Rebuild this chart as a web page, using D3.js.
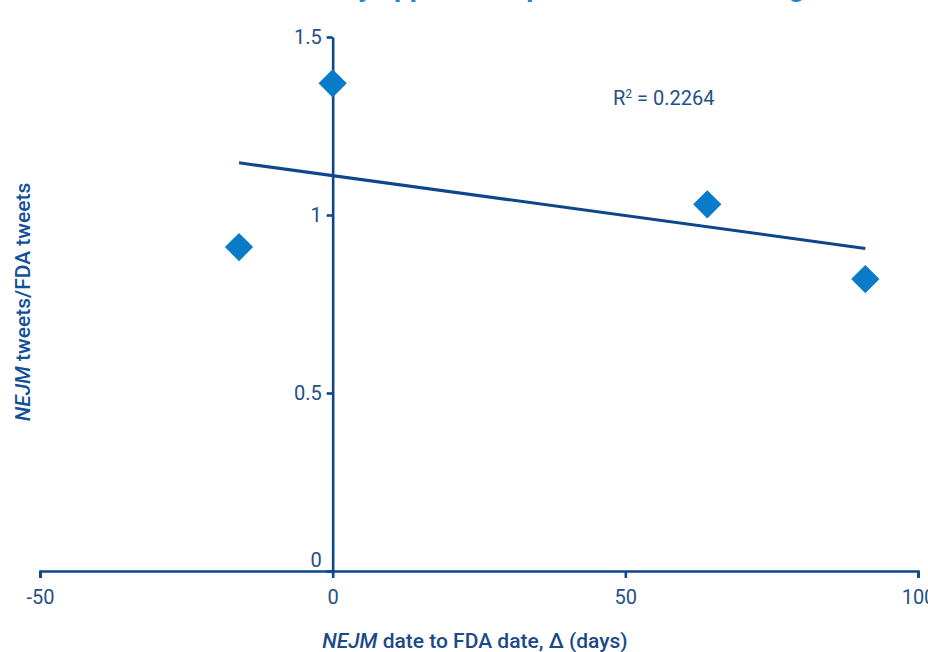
<!DOCTYPE html>
<html>
<head>
<meta charset="utf-8">
<script src="https://cdn.jsdelivr.net/npm/d3@7"></script>
<style>
  html, body { margin: 0; padding: 0; background: #fff; overflow: hidden; }
  svg { display: block; font-family: Roboto, "Noto Sans", sans-serif; }
</style>
</head>
<body>
<svg id="chart" width="928" height="652"></svg>
<script>
// Days from NEJM publication to FDA approval, and the ratio of NEJM tweets to FDA tweets
const deltaDays = [-16, 0, 64, 91];
const tweetRatio = [0.91, 1.37, 1.03, 0.82];

const xTicks = [-50, 0, 50, 100];
const yTicks = [0, 0.5, 1, 1.5];

const titleText = "NEJM vs FDA tweets by approval to process and its timing";
const xTitleItalic = "NEJM";
const xTitleRest = " date to FDA date, \u0394 (days)";
const yTitleItalic = "NEJM";
const yTitleRest = " tweets/FDA tweets";

const navy = "#0d468a";
const labelColor = "#234f88";
const markerColor = "#0a7bc8";

const svg = d3.select("#chart");

const x = d3.scaleLinear().domain([-50, 100]).range([40, 918]);
const y = d3.scaleLinear().domain([0, 1.5]).range([571, 37]);

// Chart title (sits mostly above the visible area)
const title = svg.append("text")
  .attr("y", -4)
  .attr("font-size", 28)
  .attr("font-weight", 700)
  .attr("fill", "#1789d2")
  .text(titleText);
const yIdx = titleText.indexOf("by ") + 1;
const yStart = title.node().getStartPositionOfChar(yIdx).x;
title.attr("x", 358 - yStart);

// X axis along value 0 of y
const xAxis = svg.append("g")
  .attr("transform", `translate(0,${y(0)})`)
  .call(d3.axisBottom(x).tickValues(xTicks).tickSize(7).tickSizeOuter(7).tickPadding(12).tickFormat(d => String(d)));

// Y axis crossing at x = 0
const yAxis = svg.append("g")
  .attr("transform", `translate(${x(0)},0)`)
  .call(d3.axisLeft(y).tickValues(yTicks).tickSize(6).tickSizeOuter(0).tickPadding(5).tickFormat(d => String(d)));

[xAxis, yAxis].forEach(g => {
  g.select(".domain").attr("stroke", navy).attr("stroke-width", 2.6);
  g.selectAll(".tick line").attr("stroke", navy).attr("stroke-width", 2.6);
  g.selectAll(".tick text")
    .attr("fill", labelColor)
    .attr("font-size", 20)
    .attr("font-family", "Roboto, sans-serif");
});
yAxis.selectAll(".tick text").filter(d => d === 0).attr("dy", "-0.22em");

// Least-squares trendline through the points
const n = deltaDays.length;
const mx = d3.mean(deltaDays), my = d3.mean(tweetRatio);
let sxx = 0, sxy = 0, syy = 0;
for (let i = 0; i < n; i++) {
  const dx = deltaDays[i] - mx, dy = tweetRatio[i] - my;
  sxx += dx * dx; sxy += dx * dy; syy += dy * dy;
}
const slope = sxy / sxx;
const intercept = my - slope * mx;
const r2 = (sxy * sxy) / (sxx * syy);
const xExt = d3.extent(deltaDays);

svg.append("line")
  .attr("x1", x(xExt[0])).attr("y1", y(intercept + slope * xExt[0]))
  .attr("x2", x(xExt[1])).attr("y2", y(intercept + slope * xExt[1]))
  .attr("stroke", navy)
  .attr("stroke-width", 3);

// Diamond markers
const diamond = d3.symbol().type(d3.symbolSquare).size(400);
svg.append("g").selectAll("path")
  .data(deltaDays.map((d, i) => [d, tweetRatio[i]]))
  .join("path")
  .attr("d", diamond)
  .attr("transform", d => `translate(${x(d[0])},${y(d[1])}) rotate(45)`)
  .attr("fill", markerColor);

// R squared annotation
const r2Label = svg.append("text")
  .attr("x", 613).attr("y", 105)
  .attr("font-size", 20)
  .attr("fill", labelColor);
r2Label.append("tspan").text("R");
r2Label.append("tspan").attr("font-size", 12).attr("dy", -7).text("2");
r2Label.append("tspan").attr("dy", 7).text(" = " + r2.toFixed(4));

// Axis titles
const xTitle = svg.append("text")
  .attr("x", 475).attr("y", 648)
  .attr("text-anchor", "middle")
  .attr("font-size", 21)
  .attr("font-weight", 500)
  .attr("fill", "#1b4a86");
xTitle.append("tspan").attr("font-style", "italic").text(xTitleItalic);
xTitle.append("tspan").text(xTitleRest);

const yTitle = svg.append("text")
  .attr("transform", "translate(30,302) rotate(-90)")
  .attr("text-anchor", "middle")
  .attr("font-size", 21)
  .attr("font-weight", 500)
  .attr("fill", "#12509a");
yTitle.append("tspan").attr("font-style", "italic").text(yTitleItalic);
yTitle.append("tspan").text(yTitleRest);
</script>
</body>
</html>
